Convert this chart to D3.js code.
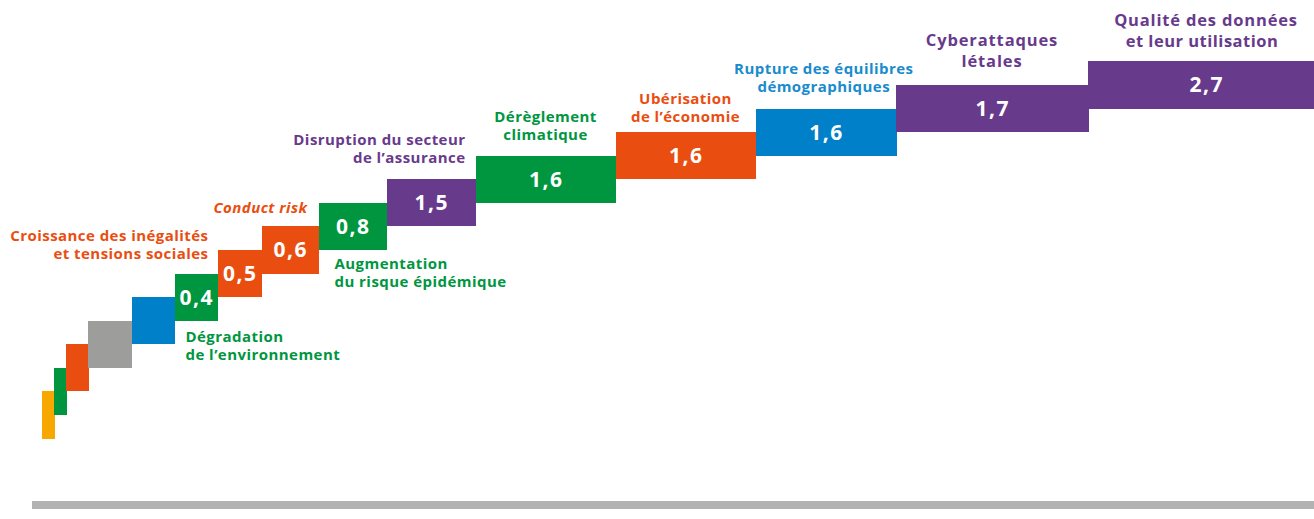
<!DOCTYPE html>
<html>
<head>
<meta charset="utf-8">
<script src="https://cdn.jsdelivr.net/npm/d3@7"></script>
<style>
  html, body { margin: 0; padding: 0; background: #ffffff; }
  svg { display: block; }
  text { font-family: "Open Sans", sans-serif; font-weight: 700; }
</style>
</head>
<body>
<svg id="chart" width="1314" height="519"></svg>
<script>
// ---- data ----
const categories = [
  "", "", "", "", "",
  "Dégradation|de l’environnement",
  "Croissance des inégalités|et tensions sociales",
  "Conduct risk",
  "Augmentation|du risque épidémique",
  "Disruption du secteur|de l’assurance",
  "Dérèglement|climatique",
  "Ubérisation|de l’économie",
  "Rupture des équilibres|démographiques",
  "Cyberattaques|létales",
  "Qualité des données|et leur utilisation"
];
const values = [null, null, null, null, null, 0.4, 0.5, 0.6, 0.8, 1.5, 1.6, 1.6, 1.6, 1.7, 2.7];
const spans = [1.2, 1.2, 2.2, 4.35, 4.3, 4.3, 4.4, 5.7, 6.8, 8.9, 14.0, 14.0, 14.05, 19.2, 23.6];
const colorKeys = ["yellow", "green", "orange", "gray", "blue", "green", "orange", "orange", "green", "purple", "green", "orange", "blue", "purple", "purple"];

// ---- styles ----
const palette = {
  yellow: "#f6a800", green: "#009640", orange: "#e94e10",
  gray: "#9d9d9c", blue: "#0080c9", purple: "#683a8c"
};
const textPalette = Object.assign({}, palette, { blue: "#1a8bcc" });

// label placement (layout only)
const labelLayout = {
  5:  { anchor: "start",  hx: "left",   dx: 11,  vy: "bottom", dy: 21.7 },
  6:  { anchor: "end",    hx: "left",   dx: -9,  vy: "top",    dy: -9 },
  7:  { anchor: "end",    hx: "right",  dx: -11, vy: "top",    dy: -13.3, italic: true },
  8:  { anchor: "start",  hx: "left",   dx: 16,  vy: "bottom", dy: 19 },
  9:  { anchor: "end",    hx: "right",  dx: -10, vy: "top",    dy: -34 },
  10: { anchor: "middle", hx: "center", dx: 0,   vy: "top",    dy: -33.3 },
  11: { anchor: "middle", hx: "center", dx: 0,   vy: "top",    dy: -27.8 },
  12: { anchor: "middle", hx: "center", dx: -2,  vy: "top",    dy: -34.3 },
  13: { anchor: "middle", hx: "center", dx: 0,   vy: "top",    dy: -38.55, size: 16.5, lh: 20.6, ls: [0.87, 0.87] },
  14: { anchor: "middle", hx: "center", dx: 0,   vy: "top",    dy: -35.03, size: 16.5, lh: 20.6, ls: [0.83, 0.5], ldx: [0, -4] }
};
const lineHeight = 17.6;

// ---- chart ----
const svg = d3.select("#chart");
const n = values.length;
const starts = d3.cumsum([0].concat(spans));
const x = d3.scaleLinear().domain([0, d3.sum(spans)]).range([42, 1324]);
const y = d3.scaleLinear().domain([0, n + 1]).range([438.5, 438.5 - (n + 1) * 23.57]);

const items = values.map((v, i) => ({
  i, v, cat: categories[i], color: palette[colorKeys[i]], tcolor: textPalette[colorKeys[i]],
  x0: x(starts[i]), x1: x(starts[i + 1]), top: y(i + 2), bottom: y(i)
}));

// baseline bar
svg.append("rect")
  .attr("x", 32).attr("y", 501)
  .attr("width", 1314 - 32).attr("height", 8)
  .attr("fill", "#b2b2b2");

// boxes
svg.append("g").selectAll("rect").data(items).join("rect")
  .attr("x", d => d.x0)
  .attr("y", d => d.top)
  .attr("width", d => d.x1 - d.x0 + 0.5)
  .attr("height", d => d.bottom - d.top)
  .attr("fill", d => d.color)
  .attr("shape-rendering", "crispEdges");

// values
svg.append("g").selectAll("text").data(items.filter(d => d.v != null)).join("text")
  .attr("x", d => (d.x0 + d.x1) / 2 + 0.75)
  .attr("y", d => (d.top + d.bottom) / 2 + 7.5)
  .attr("text-anchor", "middle")
  .attr("fill", "#ffffff")
  .style("font-size", "21px")
  .style("letter-spacing", "1.5px")
  .text(d => d3.format(".1f")(d.v).replace(".", ","));

// category labels
const labelled = items.filter(d => d.cat);
const lg = svg.append("g");
labelled.forEach(d => {
  const L = labelLayout[d.i];
  const hx = L.hx === "left" ? d.x0 : L.hx === "right" ? d.x1 : (d.x0 + d.x1) / 2;
  const lines = d.cat.split("|");
  const size = L.size || 15;
  const lh = L.lh || lineHeight;
  const baseY = (L.vy === "bottom" ? d.bottom : d.top) + L.dy;
  const t = lg.append("text")
    .attr("x", hx + L.dx)
    .attr("y", baseY)
    .attr("text-anchor", L.anchor)
    .attr("fill", d.tcolor)
    .style("font-size", size + "px")
    .style("font-style", L.italic ? "italic" : "normal");
  lines.forEach((ln, k) => {
    const ls = L.ls ? L.ls[k] : 0.45;
    const ldx = L.ldx ? L.ldx[k] : 0;
    t.append("tspan")
      .attr("x", hx + L.dx + ldx)
      .attr("y", baseY + k * lh)
      .style("letter-spacing", ls + "px")
      .text(ln);
  });
});
</script>
</body>
</html>
